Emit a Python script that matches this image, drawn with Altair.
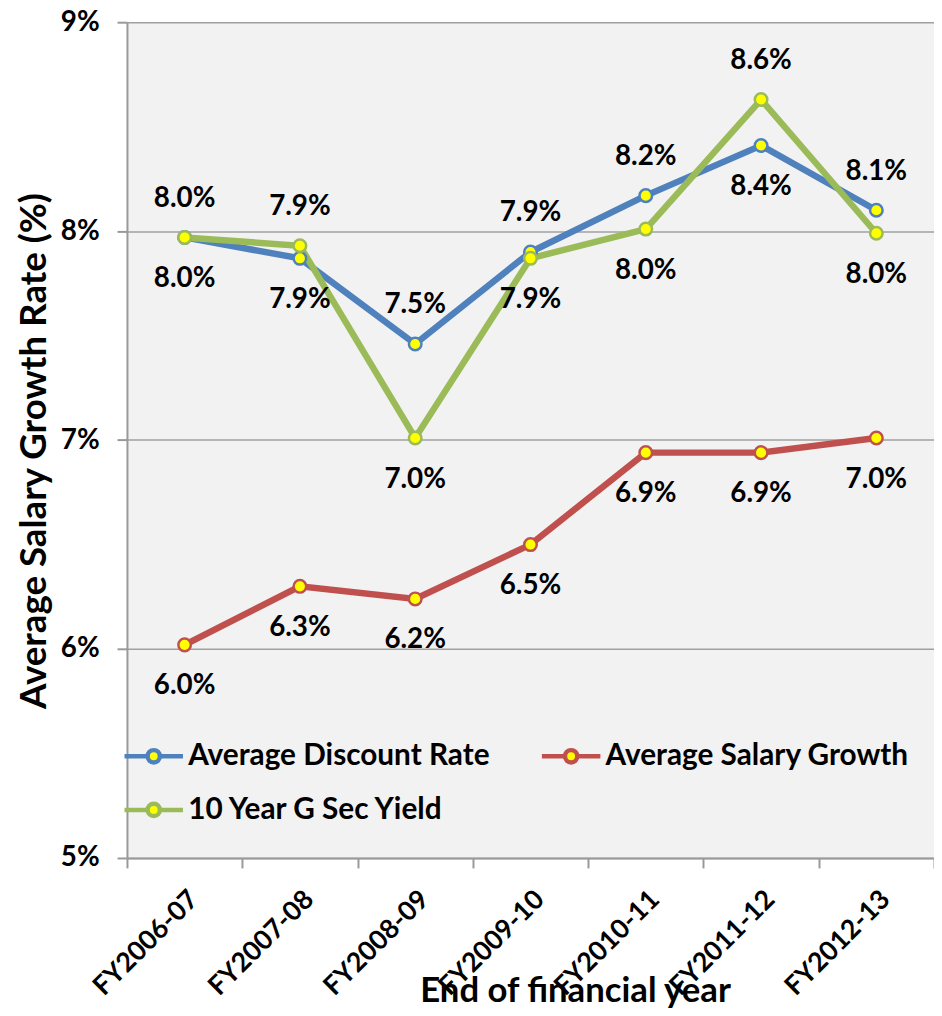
import altair as alt
import pandas as pd

years = ["FY2006-07", "FY2007-08", "FY2008-09", "FY2009-10", "FY2010-11", "FY2011-12", "FY2012-13"]
discount_rate = [7.97, 7.87, 7.46, 7.90, 8.17, 8.41, 8.10]
salary_growth = [6.02, 6.30, 6.24, 6.50, 6.94, 6.94, 7.01]
gsec_yield = [7.97, 7.93, 7.01, 7.87, 8.01, 8.63, 7.99]
series_names = ["Average Discount Rate", "Average Salary Growth", "10 Year G Sec Yield"]
series_colors = ["#4f81bd", "#c0504d", "#9bbb59"]
y_ticks = [0.05, 0.06, 0.07, 0.08, 0.09]

rows = []
for i, yr in enumerate(years):
    d, s, g = discount_rate[i], salary_growth[i], gsec_yield[i]
    green_up = g >= d
    rows.append({"year": yr, "series": series_names[0], "value": d / 100, "pos": "below" if green_up else "above", "order": 0})
    rows.append({"year": yr, "series": series_names[1], "value": s / 100, "pos": "below", "order": 1})
    rows.append({"year": yr, "series": series_names[2], "value": g / 100, "pos": "above" if green_up else "below", "order": 2})
df = pd.DataFrame(rows)

FONT = "Lato"
# legend fills column by column: order so that rows read Discount, Salary / G Sec
legend_order = [series_names[0], series_names[2], series_names[1]]
legend_colors = [series_colors[0], series_colors[2], series_colors[1]]
color_scale = alt.Scale(domain=legend_order, range=legend_colors)

x_enc = alt.X(
    "year:N",
    sort=years,
    scale=alt.Scale(paddingInner=0, paddingOuter=0),
    axis=alt.Axis(
        title="End of financial year",
        labelAngle=-45,
        labelFont=FONT, labelFontSize=27, labelFontWeight="bold", labelColor="black",
        labelPadding=18,
        tickBand="extent", tickSize=10, tickColor="#999999", tickWidth=2,
        domainColor="#999999", domainWidth=2,
        titleFont=FONT, titleFontSize=35, titleFontWeight="bold", titleColor="black",
        titleX=452, titleY=145, titleBaseline="alphabetic", titleAlign="center",
        grid=False,
    ),
)
y_enc = alt.Y(
    "value:Q",
    scale=alt.Scale(domain=[0.05, 0.09], nice=False, zero=False),
    axis=alt.Axis(
        title="Average Salary Growth Rate (%)",
        values=y_ticks, format=".0%",
        labelFont=FONT, labelFontSize=28, labelFontWeight="bold", labelColor="black",
        labelPadding=18,
        tickSize=10, tickColor="#999999", tickWidth=2,
        domainColor="#999999", domainWidth=2,
        grid=True, gridColor="#a0a0a0", gridWidth=1.5,
        titleFont=FONT, titleFontSize=37, titleFontWeight="bold", titleColor="black",
        titleX=-93, titleY=432, titleBaseline="middle",
    ),
)

legend_path = "M-2,0L-0.42,0M0.42,0L2,0M0.42,0A0.42,0.42,0,1,1,-0.42,0A0.42,0.42,0,1,1,0.42,0Z"
stroke_enc = alt.Stroke(
    "series:N",
    scale=color_scale,
    legend=alt.Legend(
        title=None, orient="none", legendX=10, legendY=723, columns=2,
        columnPadding=43, rowPadding=21.5, padding=0,
        symbolType=legend_path, symbolSize=870, symbolStrokeWidth=4.5,
        symbolFillColor="#ffff00",
        labelFont=FONT, labelFontSize=30, labelFontWeight="bold", labelColor="black",
        labelOffset=17.75, labelLimit=500,
    ),
)

base = alt.Chart(df).encode(x=x_enc, y=y_enc)

lines = base.mark_line(strokeWidth=6.5).encode(stroke=stroke_enc, detail="series:N", order="order:Q")
points = base.mark_point(filled=True, fill="#ffff00", size=160, strokeWidth=2.5, opacity=1).encode(
    stroke=stroke_enc, order="order:Q"
)
labels_above = base.transform_filter(alt.datum.pos == "above").mark_text(
    dy=-39, font=FONT, fontSize=28, fontWeight="bold", color="black", baseline="middle"
).encode(text=alt.Text("value:Q", format=".1%"))
labels_below = base.transform_filter(alt.datum.pos == "below").mark_text(
    dy=42, font=FONT, fontSize=28, fontWeight="bold", color="black", baseline="middle"
).encode(text=alt.Text("value:Q", format=".1%"))

chart = alt.layer(lines, points, labels_above, labels_below).properties(
    width=814, height=843,
    padding={"left": 120, "top": 10, "right": 0, "bottom": 150},
    autosize=alt.AutoSizeParams(type="none"),
    background="white",
).configure_view(fill="#f2f2f2", stroke=None)

chart.save("out.html", embed_options={"renderer": "svg", "actions": False})
